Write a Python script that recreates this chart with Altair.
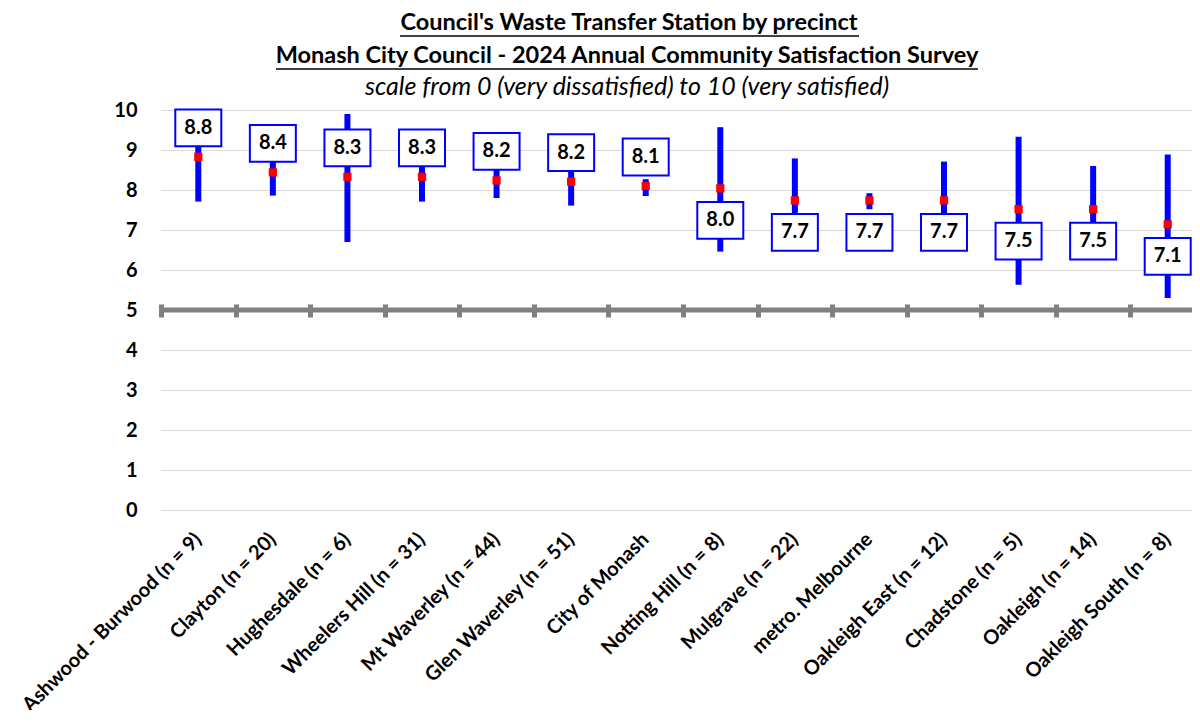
import altair as alt
import pandas as pd

# ---- data ----
categories = [
    "Ashwood - Burwood (n = 9)", "Clayton (n = 20)", "Hughesdale (n = 6)",
    "Wheelers Hill (n = 31)", "Mt Waverley (n = 44)", "Glen Waverley (n = 51)",
    "City of Monash", "Notting Hill (n = 8)", "Mulgrave (n = 22)",
    "metro. Melbourne", "Oakleigh East (n = 12)", "Chadstone (n = 5)",
    "Oakleigh (n = 14)", "Oakleigh South (n = 8)",
]
means = [8.83, 8.44, 8.33, 8.33, 8.24, 8.21, 8.10, 8.04, 7.74, 7.74, 7.74, 7.52, 7.52, 7.14]
lower = [7.71, 7.86, 6.70, 7.71, 7.80, 7.61, 7.85, 6.46, 6.70, 7.52, 6.80, 5.63, 6.44, 5.30]
upper = [9.95, 9.04, 9.90, 8.95, 8.68, 8.81, 8.27, 9.57, 8.79, 7.92, 8.71, 9.33, 8.60, 8.89]
labels_above = categories[:7]   # value boxes drawn above the mean for these precincts
y_ticks = list(range(0, 11))
midpoint = [5]

title_lines = [
    "Council's Waste Transfer Station by precinct",
    "Monash City Council - 2024 Annual Community Satisfaction Survey",
]
subtitle = "scale from 0 (very dissatisfied) to 10 (very satisfied)"

df = pd.DataFrame({"precinct": categories, "mean": means, "lower": lower, "upper": upper})
df["side"] = ["above" if c in labels_above else "below" for c in categories]

FONT = "Lato"
BLUE = "#0000ff"
RED = "#ff0000"
GREY = "#808080"
BOX = "M-1,-0.8L1,-0.8L1,0.8L-1,0.8Z"

x_scale = alt.Scale(type="band", paddingInner=0, paddingOuter=0, range=[0, 1044])
y_scale = alt.Scale(domain=[0, 10], nice=False, zero=True)
y_axis = alt.Axis(values=y_ticks, title=None, domain=False, ticks=False,
                  labelFont=FONT, labelFontSize=20, labelFontWeight="bold",
                  labelColor="black", labelPadding=24,
                  gridColor="#d9d9d9", gridWidth=1)

label_axis = alt.Axis(orient="bottom", title=None, domain=False, ticks=False, grid=False,
                      labelAngle=-45, labelAlign="right", labelBaseline="middle",
                      labelFont=FONT, labelFontSize=20, labelFontWeight="bold",
                      labelColor="black", labelPadding=26, labelLimit=400,
                      labelOverlap=False)
tick_axis = alt.Axis(orient="bottom", title=None, domain=False, labels=False, grid=False,
                     ticks=True, tickBand="extent", tickColor=GREY, tickWidth=5,
                     tickSize=13, offset=-206)

def X(axis):
    return alt.X("precinct:N", sort=categories, scale=x_scale, axis=axis)

def Y(field):
    return alt.Y(field, type="quantitative", scale=y_scale, axis=y_axis)

base = alt.Chart(df)

bars = base.mark_rule(color=BLUE, strokeWidth=6).encode(
    x=X(tick_axis), y=Y("lower"), y2="upper:Q")

points = base.mark_square(color=RED, size=68, opacity=1).encode(
    x=X(label_axis), y=Y("mean"))

mid_line = alt.Chart(pd.DataFrame({"v": midpoint})).mark_rule(
    color=GREY, strokeWidth=5).encode(y=Y("v"))

def boxes(side, off):
    return base.transform_filter(alt.datum.side == side).mark_point(
        shape=BOX, size=2116, filled=True, fill="white", stroke=BLUE,
        strokeWidth=2, opacity=1, yOffset=off).encode(x=X(None), y=Y("mean"))

def texts(side, off):
    return base.transform_filter(alt.datum.side == side).mark_text(
        font=FONT, fontSize=20, fontWeight="bold", color="black", dy=off,
        baseline="middle", align="center").encode(
        x=X(None), y=Y("mean"), text=alt.Text("mean:Q", format=".1f"))

one = pd.DataFrame({"a": [0]})

def title_text(txt, gx, gy, size, weight="bold", style="normal"):
    return alt.Chart(one).mark_text(
        text=txt, font=FONT, fontSize=size, fontWeight=weight, fontStyle=style,
        color="black", align="center", baseline="middle").encode(
        x=alt.value(gx), y=alt.value(gy))

def underline(gx1, gx2, gy):
    return alt.Chart(one).mark_rule(color="black", strokeWidth=1.4).encode(
        x=alt.value(gx1), x2=alt.value(gx2), y=alt.value(gy))

chart = alt.layer(
    mid_line, bars, points,
    boxes("above", -29), boxes("below", 32),
    texts("above", -29), texts("below", 32),
    title_text(title_lines[0], 468, -87, 23.5),
    title_text(title_lines[1], 466, -54, 23.5),
    title_text(subtitle, 466, -23, 25, weight="normal", style="italic"),
    underline(239, 698, -74),
    underline(115, 817, -41),
).resolve_axis(x="independent").properties(
    width=1031, height=400,
    padding={"left": 153, "top": 102, "right": 0, "bottom": 200},
    autosize=alt.AutoSizeParams(type="none"),
    background="white",
).configure_view(stroke=None)

chart.save("out.html", embed_options={"renderer": "svg", "actions": False})
